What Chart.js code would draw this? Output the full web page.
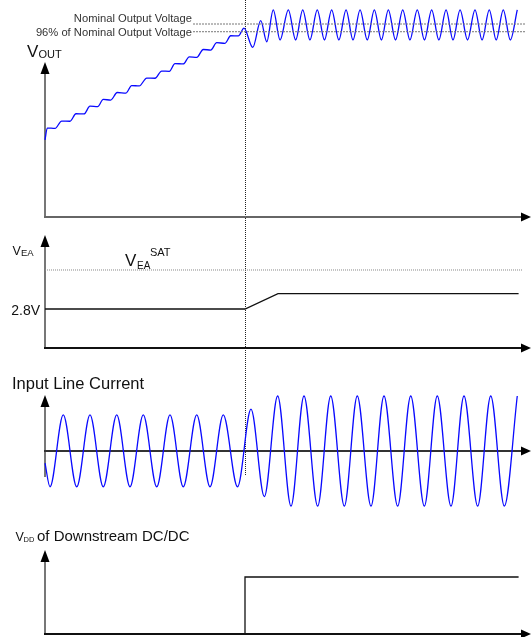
<!DOCTYPE html>
<html>
<head>
<meta charset="utf-8">
<script src="https://cdn.jsdelivr.net/npm/chart.js@4.4.1/dist/chart.umd.min.js"></script>
<style>
  html, body { margin: 0; padding: 0; background: #fff; }
  #wrap { width: 531px; height: 637px; position: relative; }
</style>
</head>
<body>
<div id="wrap"><canvas id="timing" width="531" height="637"></canvas></div>
<script>
// time in ms; 150 ms = output reaches 96 % of nominal, downstream DC/DC enabled
const eventTime = 150;

// output voltage, % of nominal (stair-step charge, then ripple around nominal)
const voutTime = [0, 1.7, 7.5, 12.5, 18.75, 23.25, 29.25, 33.75, 39.5, 43.7, 49.3, 54.2, 60.75, 65, 70.7,
  76.3, 82.5, 87.5, 93.2, 97.5, 103.7, 108.2, 113.8, 118.7, 124.3, 128.8, 135, 139.3, 145, 149.25,
  155.8, 161.8, 166.3, 171.2, 176.3, 182.5, 188, 193.3, 198.7, 204.2, 209.6, 215, 220.4, 225.8,
  231, 236.3, 241.7, 247, 252.3, 257.5, 262.9, 268.3, 273.7, 279.2, 284.6, 290, 295.4, 300.8,
  306, 311.3, 316.9, 322.5, 327.8, 333.2, 338.4, 343.7, 349, 354.2];
const voutLevel = [39.9, 46.1, 45.9, 49.7, 49.6, 53.5, 53.4, 57.4, 57.2, 60.9, 60.6, 64.5, 64.2, 68.1, 67.9,
  72.0, 71.9, 75.6, 75.5, 79.5, 79.3, 83.0, 82.7, 86.8, 86.5, 90.3, 90.0, 93.9, 93.8, 97.9,
  87.9, 101.7, 90.8, 107.3, 91.7, 107.3, 91.7, 107.3, 91.7, 107.3, 91.7, 107.3, 91.7, 107.3,
  91.7, 107.3, 91.7, 107.3, 91.7, 107.3, 91.7, 107.3, 91.7, 107.3, 91.7, 107.3, 91.7, 107.3,
  91.7, 107.3, 91.7, 107.3, 91.7, 107.3, 91.7, 107.3, 91.7, 107.3];
const nominalLevel = 100;
const thresholdLevel = 96;
const refLineTime = [111, 360];

// error amplifier output, V
const veaTime = [0, 150, 174.75, 355.2];
const veaLevel = [2.8, 2.8, 3.9, 3.9];
const veaSat = 5.6;
const veaSatTime = [0, 358];

// input line current, A (peaks and valleys of each half cycle)
const iinTime = [0, 3.75, 13.7, 23.8, 33.75, 43.7, 53.8, 63.75, 73.7, 83.8, 93.75, 103.7, 113.8, 123.75,
  133.7, 144.4, 154.5, 164.5, 174.5, 184.5, 194.25, 204.5, 214.3, 224.5, 234.2, 244.5, 254.25,
  264.5, 274.3, 284.5, 294.2, 304.5, 314.25, 324.5, 334.3, 344.5, 354.2];
const iinLevel = [-0.22, -0.65, 0.655, -0.65, 0.655, -0.65, 0.655, -0.65, 0.655, -0.65, 0.655, -0.65, 0.655, -0.65,
  0.655, -0.65, 0.76, -0.83, 1.0, -1.0, 1.0, -1.0, 1.0, -1.0, 1.0, -1.0, 1.0,
  -1.0, 1.0, -1.0, 1.0, -1.0, 1.0, -1.0, 1.0, -1.0, 1.0];

// VDD of downstream DC/DC, V
const vddTime = [0, 150, 150, 355.2];
const vddLevel = [0, 0, 12, 12];

const W = 531, H = 637;
const zip = (xs, ys) => xs.map((x, i) => ({ x: x, y: ys[i] }));
const flat = (xs, v) => xs.map(x => ({ x: x, y: v }));

// each signal gets its own y scale over the full canvas; base = pixel row of 0, k = px per unit
function band(base, k) {
  return { type: 'linear', display: false, bounds: 'data', min: -(H - base) / k, max: base / k };
}

const panels = [
  { id: 'yOut', tip: 62, foot: 217, xColor: '#666' },
  { id: 'yEa', tip: 235, foot: 348, xColor: '#111' },
  { id: 'yIn', tip: 395, foot: 477, xColor: '#333' },
  { id: 'yDd', tip: 550, foot: 634, xColor: '#111' }
];
const markerBottom = 475;
const FONT = '"Liberation Sans", Arial, Helvetica, sans-serif';

function txt(ctx, s, x, y, size, align) {
  ctx.font = size + 'px ' + FONT;
  ctx.textAlign = align || 'left';
  ctx.fillText(s, x, y);
}

const diagram = {
  id: 'diagram',
  beforeDatasetsDraw(chart) {
    const ctx = chart.ctx, sc = chart.scales;
    const x0 = sc.x.getPixelForValue(0);
    ctx.save();
    const xm = Math.round(sc.x.getPixelForValue(eventTime)) + 0.5;
    ctx.strokeStyle = '#222';
    ctx.lineWidth = 1;
    ctx.setLineDash([1, 1]);
    ctx.beginPath(); ctx.moveTo(xm, 0); ctx.lineTo(xm, markerBottom); ctx.stroke();
    ctx.setLineDash([]);
    ctx.lineWidth = 2;
    panels.forEach(p => {
      const yb = sc[p.id].getPixelForValue(0);
      ctx.strokeStyle = '#777';
      ctx.beginPath(); ctx.moveTo(x0, p.foot); ctx.lineTo(x0, p.tip + 10); ctx.stroke();
      ctx.strokeStyle = p.xColor;
      ctx.beginPath(); ctx.moveTo(x0 - 1, yb); ctx.lineTo(W - 8, yb); ctx.stroke();
    });
    ctx.restore();
  },
  afterDatasetsDraw(chart) {
    const ctx = chart.ctx, sc = chart.scales;
    const x0 = sc.x.getPixelForValue(0);
    ctx.save();
    ctx.fillStyle = '#000';
    panels.forEach(p => {
      const yb = sc[p.id].getPixelForValue(0);
      ctx.beginPath(); ctx.moveTo(x0, p.tip); ctx.lineTo(x0 - 4.5, p.tip + 12); ctx.lineTo(x0 + 4.5, p.tip + 12); ctx.closePath(); ctx.fill();
      ctx.beginPath(); ctx.moveTo(W, yb); ctx.lineTo(W - 10, yb - 4.5); ctx.lineTo(W - 10, yb + 4.5); ctx.closePath(); ctx.fill();
    });

    ctx.fillStyle = '#333';
    txt(ctx, 'Nominal Output Voltage', 192, 21.5, 11.2, 'right');
    txt(ctx, '96% of Nominal Output Voltage', 192, 36, 11.2, 'right');

    ctx.fillStyle = '#111';
    txt(ctx, 'V', 27, 56.5, 17);
    txt(ctx, 'OUT', 38.5, 57.5, 11);

    txt(ctx, 'V', 12.5, 254.5, 12.5);
    txt(ctx, 'EA', 21, 256, 9.5);

    txt(ctx, 'V', 125, 266, 17);
    txt(ctx, 'EA', 137, 268.5, 10);
    txt(ctx, 'SAT', 150, 256, 11);

    txt(ctx, '2.8V', 40, 314.8, 14, 'right');

    txt(ctx, 'Input Line Current', 12, 388.5, 16.5);

    txt(ctx, 'V', 15.5, 541, 12.5);
    txt(ctx, 'DD', 23.5, 542, 7.5);
    txt(ctx, 'of Downstream DC/DC', 37, 541, 15);
    ctx.restore();
  }
};

const blue = '#0a0aff';
const line = (data, axis, color, extra) => Object.assign({
  data: data, yAxisID: axis, borderColor: color, borderWidth: 1.3,
  pointRadius: 0, fill: false, tension: 0
}, extra || {});

new Chart(document.getElementById('timing'), {
  type: 'line',
  data: {
    datasets: [
      line(flat(refLineTime, nominalLevel), 'yOut', '#777', { borderWidth: 1, borderDash: [2, 1] }),
      line(flat(refLineTime, thresholdLevel), 'yOut', '#777', { borderWidth: 1, borderDash: [2, 1] }),
      line(flat(veaSatTime, veaSat), 'yEa', '#888', { borderWidth: 1, borderDash: [1, 1] }),
      line(zip(voutTime, voutLevel), 'yOut', blue, { cubicInterpolationMode: 'monotone' }),
      line(zip(veaTime, veaLevel), 'yEa', '#111'),
      line(zip(iinTime, iinLevel), 'yIn', blue, { cubicInterpolationMode: 'monotone' }),
      line(zip(vddTime, vddLevel), 'yDd', '#111')
    ]
  },
  options: {
    responsive: false,
    animation: false,
    devicePixelRatio: 1,
    layout: { padding: 0 },
    events: [],
    plugins: { legend: { display: false }, tooltip: { enabled: false } },
    scales: {
      x: { type: 'linear', display: false, min: -33.75, max: 364.5 },
      yOut: band(217, 1.93),
      yEa: band(348, 13.93),
      yIn: band(451, 55),
      yDd: band(634, 4.75)
    }
  },
  plugins: [diagram]
});
</script>
</body>
</html>
